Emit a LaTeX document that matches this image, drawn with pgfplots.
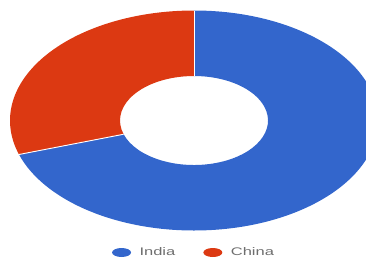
\documentclass[border=0pt]{standalone}
\usepackage{pgfplots}
\pgfplotsset{compat=1.18}
\usepackage{pgfplotstable}
\usepackage{fontspec}
\setmainfont{Liberation Sans}
\usepackage{graphicx}
\definecolor{india}{HTML}{3366CC}
\definecolor{china}{HTML}{DC3912}
\definecolor{legtext}{HTML}{6E6E6E}
\pgfplotstableread{
label value
India 70
China 30
}\piedata
\begin{document}
\begin{tikzpicture}
\path[use as bounding box] (0,0) rectangle (366pt,258pt);
\pgfplotstablegetelem{0}{value}\of\piedata \let\vIndia\pgfplotsretval
\pgfplotstablegetelem{1}{value}\of\piedata \let\vChina\pgfplotsretval
\pgfmathsetmacro{\total}{\vIndia+\vChina}
\pgfmathsetmacro{\aA}{90}
\pgfmathsetmacro{\aB}{90-360*(\vIndia/\total)}
\pgfmathsetmacro{\aC}{\aB-360*(\vChina/\total)}
\begin{axis}[at={(0,0)}, anchor=south west,
  scale only axis, width=366pt, height=258pt, hide axis,
  xmin=-194, xmax=172, ymin=-137.5, ymax=120.5, clip=true,
  legend columns=2,
  legend style={draw=none, fill=none, at={(axis cs:0,-132)}, anchor=center,
    font=\fontsize{11}{13}\selectfont, text=legtext,
    /tikz/every even column/.append style={column sep=26pt}},
  legend cell align=left]
\addlegendimage{legend image code/.code={\fill[india, draw=none] (0,0) ellipse (9.5pt and 4.5pt);\path[draw=none, fill=none] (-9.5pt,0) -- (16pt,0);}}
\addlegendentry{\scalebox{1.5}[1]{India}}
\addlegendimage{legend image code/.code={\fill[china, draw=none] (0,0) ellipse (9.5pt and 4.5pt);\path[draw=none, fill=none] (-9.5pt,0) -- (16pt,0);}}
\addlegendentry{\scalebox{1.5}[1]{China}}
\fill[india] (axis cs:{184*cos(\aA)},{110*sin(\aA)}) arc[start angle=\aA, end angle=\aB, x radius=184pt, y radius=110pt]
  -- (axis cs:{74*cos(\aB)},{44.5*sin(\aB)}) arc[start angle=\aB, end angle=\aA, x radius=74pt, y radius=44.5pt] -- cycle;
\fill[china] (axis cs:{184*cos(\aB)},{110*sin(\aB)}) arc[start angle=\aB, end angle=\aC, x radius=184pt, y radius=110pt]
  -- (axis cs:{74*cos(\aC)},{44.5*sin(\aC)}) arc[start angle=\aC, end angle=\aB, x radius=74pt, y radius=44.5pt] -- cycle;
\draw[white, line width=0.9pt] (axis cs:{74*cos(\aA)},{44.5*sin(\aA)}) -- (axis cs:{184*cos(\aA)},{110*sin(\aA)});
\draw[white, line width=0.9pt] (axis cs:{74*cos(\aB)},{44.5*sin(\aB)}) -- (axis cs:{184*cos(\aB)},{110*sin(\aB)});
\end{axis}
\end{tikzpicture}
\end{document}
